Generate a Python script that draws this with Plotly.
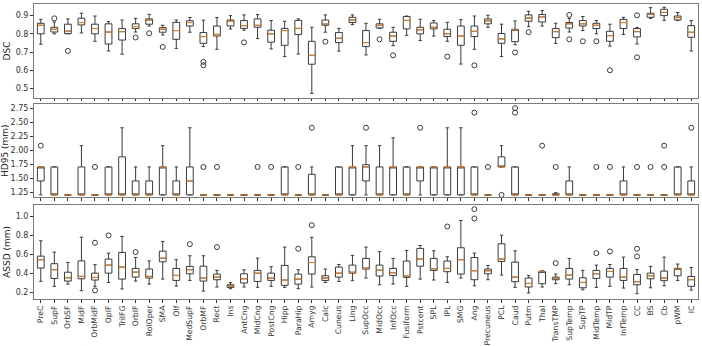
import plotly.graph_objects as go
from plotly.subplots import make_subplots

categories = ["PreC","SupF","OrbSF","MidF","OrbMidF","OpIF","TriIFG","OrbIF","RolOper","SMA",
              "Olf","MedSupF","OrbMF","Rect","Ins","AntCng","MidCng","PostCng","Hipp","ParaHip",
              "Amyg","Calc","Cuneus","Ling","SupOcc","MidOcc","InfOcc","Fusiform","Pstcent","SPL",
              "IPL","SMG","Ang","Precuneus","PCL","Caud","Putm","Thal","TransTMP","SupTemp",
              "SupTP","MidTemp","MidTP","InfTemp","CC","BS","Cb","pWM","IC"]

# ---- DSC ----
dsc_lo  = [0.743,0.800,0.800,0.805,0.759,0.706,0.688,0.810,0.843,0.794,0.720,0.809,0.730,0.715,0.827,
           0.820,0.774,0.717,0.675,0.689,0.473,0.809,0.705,0.851,0.684,0.830,0.735,0.792,0.763,0.788,
           0.759,0.634,0.715,0.836,0.675,0.740,0.840,0.843,0.748,0.810,0.818,0.800,0.733,0.797,0.744,
           0.885,0.874,0.873,0.706]
dsc_q1  = [0.800,0.810,0.801,0.849,0.800,0.744,0.766,0.829,0.853,0.809,0.770,0.843,0.748,0.788,0.843,
           0.830,0.836,0.754,0.737,0.796,0.633,0.847,0.752,0.862,0.730,0.832,0.759,0.827,0.800,0.827,
           0.785,0.737,0.785,0.855,0.748,0.757,0.869,0.865,0.779,0.832,0.843,0.829,0.759,0.829,0.783,
           0.891,0.900,0.876,0.781]
dsc_med = [0.847,0.825,0.815,0.862,0.829,0.810,0.812,0.840,0.876,0.825,0.818,0.862,0.785,0.797,0.871,
           0.845,0.847,0.800,0.818,0.830,0.682,0.854,0.776,0.876,0.752,0.847,0.788,0.874,0.822,0.836,
           0.800,0.788,0.814,0.871,0.772,0.822,0.887,0.893,0.812,0.855,0.855,0.847,0.790,0.862,0.812,
           0.908,0.918,0.889,0.809]
dsc_q3  = [0.858,0.836,0.853,0.886,0.853,0.855,0.829,0.855,0.882,0.834,0.863,0.872,0.807,0.843,0.876,
           0.873,0.882,0.820,0.830,0.874,0.759,0.876,0.807,0.891,0.818,0.855,0.809,0.895,0.836,0.860,
           0.825,0.843,0.843,0.882,0.802,0.825,0.904,0.906,0.829,0.862,0.873,0.858,0.814,0.880,0.829,
           0.913,0.935,0.898,0.845]
dsc_hi  = [0.880,0.865,0.882,0.913,0.898,0.867,0.876,0.885,0.907,0.847,0.876,0.890,0.875,0.890,0.900,
           0.904,0.906,0.873,0.869,0.882,0.836,0.904,0.830,0.904,0.858,0.880,0.836,0.898,0.880,0.873,
           0.863,0.878,0.898,0.902,0.853,0.871,0.924,0.928,0.858,0.885,0.895,0.873,0.853,0.891,0.835,
           0.944,0.946,0.917,0.873]
dsc_out_cat = ["SupF","OrbSF","OrbIF","RolOper","SMA","OrbMF","OrbMF","AntCng","Calc","MidOcc",
               "InfOcc","IPL","Ang","Caud","Putm","SupTemp","SupTemp","SupTP","MidTemp","MidTP","CC","CC"]
dsc_out_val = [0.885,0.706,0.780,0.803,0.728,0.646,0.627,0.753,0.757,0.770,
               0.682,0.675,0.627,0.698,0.809,0.904,0.770,0.759,0.759,0.600,0.902,0.671]

# ---- HD95 ----
hd_lo  = [1.2,1.2,1.2,1.2,1.2,1.2,1.2,1.2,1.2,1.2,1.2,1.2,1.2,1.2,1.2,1.2,1.2,1.2,1.2,1.2,
          1.2,1.2,1.2,1.2,1.2,1.2,1.2,1.2,1.2,1.2,1.2,1.2,1.2,1.2,1.7,1.2,1.2,1.2,1.2,1.2,
          1.2,1.2,1.2,1.2,1.2,1.2,1.2,1.2,1.2]
hd_q1  = [1.45,1.2,1.2,1.2,1.2,1.2,1.2,1.2,1.2,1.2,1.2,1.2,1.2,1.2,1.2,1.2,1.2,1.2,1.2,1.2,
          1.2,1.2,1.2,1.2,1.45,1.2,1.2,1.2,1.45,1.2,1.2,1.2,1.2,1.2,1.7,1.2,1.2,1.2,1.2,1.2,
          1.2,1.2,1.2,1.2,1.2,1.2,1.2,1.2,1.2]
hd_med = [1.7,1.2,1.2,1.2,1.2,1.2,1.2,1.2,1.2,1.7,1.2,1.45,1.2,1.2,1.2,1.2,1.2,1.2,1.2,1.2,
          1.2,1.2,1.2,1.7,1.7,1.2,1.7,1.2,1.7,1.7,1.7,1.7,1.2,1.2,1.7,1.2,1.2,1.2,1.2,1.2,
          1.2,1.2,1.2,1.2,1.2,1.2,1.2,1.2,1.2]
hd_q3  = [1.7,1.7,1.2,1.7,1.2,1.7,1.88,1.45,1.45,1.7,1.45,1.7,1.2,1.2,1.2,1.2,1.2,1.2,1.7,1.2,
          1.57,1.2,1.7,1.7,1.74,1.7,1.7,1.7,1.7,1.7,1.7,1.7,1.7,1.2,1.88,1.7,1.2,1.2,1.22,1.45,
          1.2,1.2,1.2,1.45,1.2,1.2,1.2,1.7,1.45]
hd_hi  = [1.7,1.7,1.2,2.08,1.2,1.7,2.4,1.7,1.7,2.08,1.7,2.4,1.2,1.2,1.2,1.2,1.2,1.2,1.7,1.2,
          1.7,1.2,1.7,2.08,2.08,2.08,2.22,1.7,1.7,1.7,2.4,2.4,1.7,1.2,2.08,1.7,1.2,1.2,1.24,1.7,
          1.2,1.2,1.2,1.7,1.2,1.2,1.2,1.7,1.7]
hd_out_cat = ["PreC","OrbMidF","OrbMF","Rect","MidCng","PostCng","ParaHip","Amyg","SupOcc","Pstcent",
              "Ang","Precuneus","PCL","Caud","Caud","Thal","TransTMP","MidTemp","MidTP","CC","BS",
              "Cb","Cb","IC"]
hd_out_val = [2.08,1.7,1.7,1.7,1.7,1.7,1.7,2.4,2.4,2.4,
              2.67,1.7,1.2,2.75,2.67,2.08,1.7,1.7,1.7,1.7,1.7,
              1.7,2.08,2.4]

# ---- ASSD ----
as_lo  = [0.313,0.260,0.284,0.214,0.260,0.302,0.232,0.316,0.284,0.337,0.263,0.323,0.210,0.253,0.235,
          0.253,0.250,0.260,0.250,0.235,0.253,0.300,0.312,0.320,0.348,0.277,0.284,0.260,0.337,0.327,
          0.302,0.348,0.266,0.330,0.380,0.249,0.190,0.253,0.288,0.277,0.224,0.249,0.260,0.242,0.182,
          0.245,0.266,0.323,0.220]
as_q1  = [0.454,0.344,0.316,0.340,0.327,0.400,0.337,0.358,0.348,0.520,0.323,0.393,0.316,0.330,0.249,
          0.295,0.312,0.323,0.270,0.284,0.390,0.323,0.358,0.400,0.443,0.369,0.376,0.355,0.474,0.429,
          0.415,0.390,0.330,0.393,0.524,0.309,0.253,0.288,0.330,0.337,0.245,0.344,0.358,0.323,0.277,
          0.340,0.320,0.372,0.260]
as_med = [0.542,0.436,0.350,0.366,0.355,0.485,0.464,0.411,0.366,0.559,0.376,0.436,0.348,0.358,0.263,
          0.340,0.400,0.348,0.327,0.337,0.513,0.348,0.400,0.408,0.450,0.432,0.404,0.369,0.549,0.446,
          0.450,0.542,0.425,0.425,0.549,0.358,0.291,0.415,0.348,0.379,0.302,0.393,0.418,0.358,0.309,
          0.372,0.348,0.443,0.330]
as_q3  = [0.580,0.500,0.410,0.530,0.400,0.549,0.619,0.450,0.443,0.633,0.450,0.471,0.474,0.390,0.277,
          0.393,0.429,0.400,0.482,0.390,0.573,0.372,0.464,0.485,0.556,0.485,0.450,0.528,0.662,0.556,
          0.528,0.669,0.566,0.443,0.711,0.517,0.348,0.418,0.358,0.450,0.351,0.429,0.450,0.450,0.386,
          0.400,0.422,0.450,0.365]
as_hi  = [0.743,0.623,0.513,0.780,0.490,0.612,0.789,0.566,0.530,0.736,0.542,0.584,0.584,0.429,0.300,
          0.436,0.559,0.468,0.676,0.436,0.780,0.443,0.492,0.588,0.676,0.627,0.556,0.641,0.693,0.637,
          0.573,0.958,0.612,0.482,0.802,0.637,0.376,0.425,0.390,0.556,0.429,0.485,0.492,0.570,0.439,
          0.471,0.570,0.496,0.460]
as_out_cat = ["OrbMidF","OrbMidF","OpIF","OrbIF","MedSupF","Rect","ParaHip","Amyg","IPL","Ang","Ang",
              "TransTMP","MidTemp","MidTP","CC","CC"]
as_out_val = [0.722,0.217,0.800,0.623,0.707,0.676,0.658,0.908,0.894,1.078,0.979,
              0.506,0.612,0.630,0.658,0.577]

y_titles = ["DSC", "HD95 (mm)", "ASSD (mm)"]

pos = list(range(1, len(categories) + 1))
idx = {c: i + 1 for i, c in enumerate(categories)}

BOX_COL = "#3a3a3a"
MED_COL = "#ff7f0e"
FRAME = "#7a7a7a"
FONT = "DejaVu Sans"

fig = make_subplots(rows=3, cols=1, shared_xaxes=False, vertical_spacing=0.02)

panels = [
    (dsc_lo, dsc_q1, dsc_med, dsc_q3, dsc_hi, dsc_out_cat, dsc_out_val),
    (hd_lo, hd_q1, hd_med, hd_q3, hd_hi, hd_out_cat, hd_out_val),
    (as_lo, as_q1, as_med, as_q3, as_hi, as_out_cat, as_out_val),
]

for r, (lo, q1, med, q3, hi, oc, ov) in enumerate(panels, start=1):
    fig.add_trace(go.Box(x=pos, q1=q1, median=med, q3=q3, lowerfence=lo, upperfence=hi,
                         width=0.5, whiskerwidth=0.5, boxpoints=False,
                         fillcolor="rgba(255,255,255,0)",
                         line=dict(color=BOX_COL, width=1), hoverinfo="skip",
                         showlegend=False), row=r, col=1)
    mx, my = [], []
    for p, m in zip(pos, med):
        mx += [p - 0.25, p + 0.25, None]
        my += [m, m, None]
    fig.add_trace(go.Scatter(x=mx, y=my, mode="lines", line=dict(color=MED_COL, width=1),
                             hoverinfo="skip", showlegend=False), row=r, col=1)
    fig.add_trace(go.Scatter(x=[idx[c] for c in oc], y=ov, mode="markers",
                             marker=dict(symbol="circle-open", size=5, color=BOX_COL,
                                         line=dict(width=1, color=BOX_COL)),
                             hoverinfo="skip", showlegend=False), row=r, col=1)

domains = [[0.6817, 1.0], [0.3454, 0.6603], [0.0, 0.3193]]
yranges = [[0.448, 0.964], [1.161, 2.821], [0.126, 1.124]]
ytickvals = [[0.5, 0.6, 0.7, 0.8, 0.9],
             [1.25, 1.5, 1.75, 2.0, 2.25, 2.5, 2.75],
             [0.2, 0.4, 0.6, 0.8, 1.0]]
yticktext = [["0.5", "0.6", "0.7", "0.8", "0.9"],
             ["1.25", "1.50", "1.75", "2.00", "2.25", "2.50", "2.75"],
             ["0.2", "0.4", "0.6", "0.8", "1.0"]]

for r in range(1, 4):
    fig.update_yaxes(row=r, col=1, domain=domains[r - 1], range=yranges[r - 1],
                     autorange=False, automargin=False,
                     tickvals=ytickvals[r - 1], ticktext=yticktext[r - 1],
                     showgrid=False, zeroline=False, showline=True, mirror=True,
                     linecolor=FRAME, linewidth=1, ticks="outside", ticklen=3,
                     tickcolor="#333", tickfont=dict(size=8, color="#333", family=FONT),
                     title=dict(text=y_titles[r - 1], font=dict(size=9, color="#222", family=FONT),
                                standoff=3))
    fig.update_xaxes(row=r, col=1, range=[0.5, 49.5], autorange=False, automargin=False,
                     tickvals=pos, ticktext=categories, showgrid=False, zeroline=False,
                     showline=True, mirror=True, linecolor=FRAME, linewidth=1,
                     ticks="outside", ticklen=2.5, tickcolor="#333", tickangle=-90,
                     showticklabels=(r == 3),
                     tickfont=dict(size=7.7, color="#333", family=FONT))

fig.update_layout(width=702, height=346, margin=dict(l=34, r=4, t=4, b=47),
                  paper_bgcolor="white", plot_bgcolor="white",
                  font=dict(family=FONT, color="#222"))

fig.write_html("out.html", config={"displayModeBar": False},
               post_script="document.body.style.margin='0';document.body.style.overflow='hidden';")
